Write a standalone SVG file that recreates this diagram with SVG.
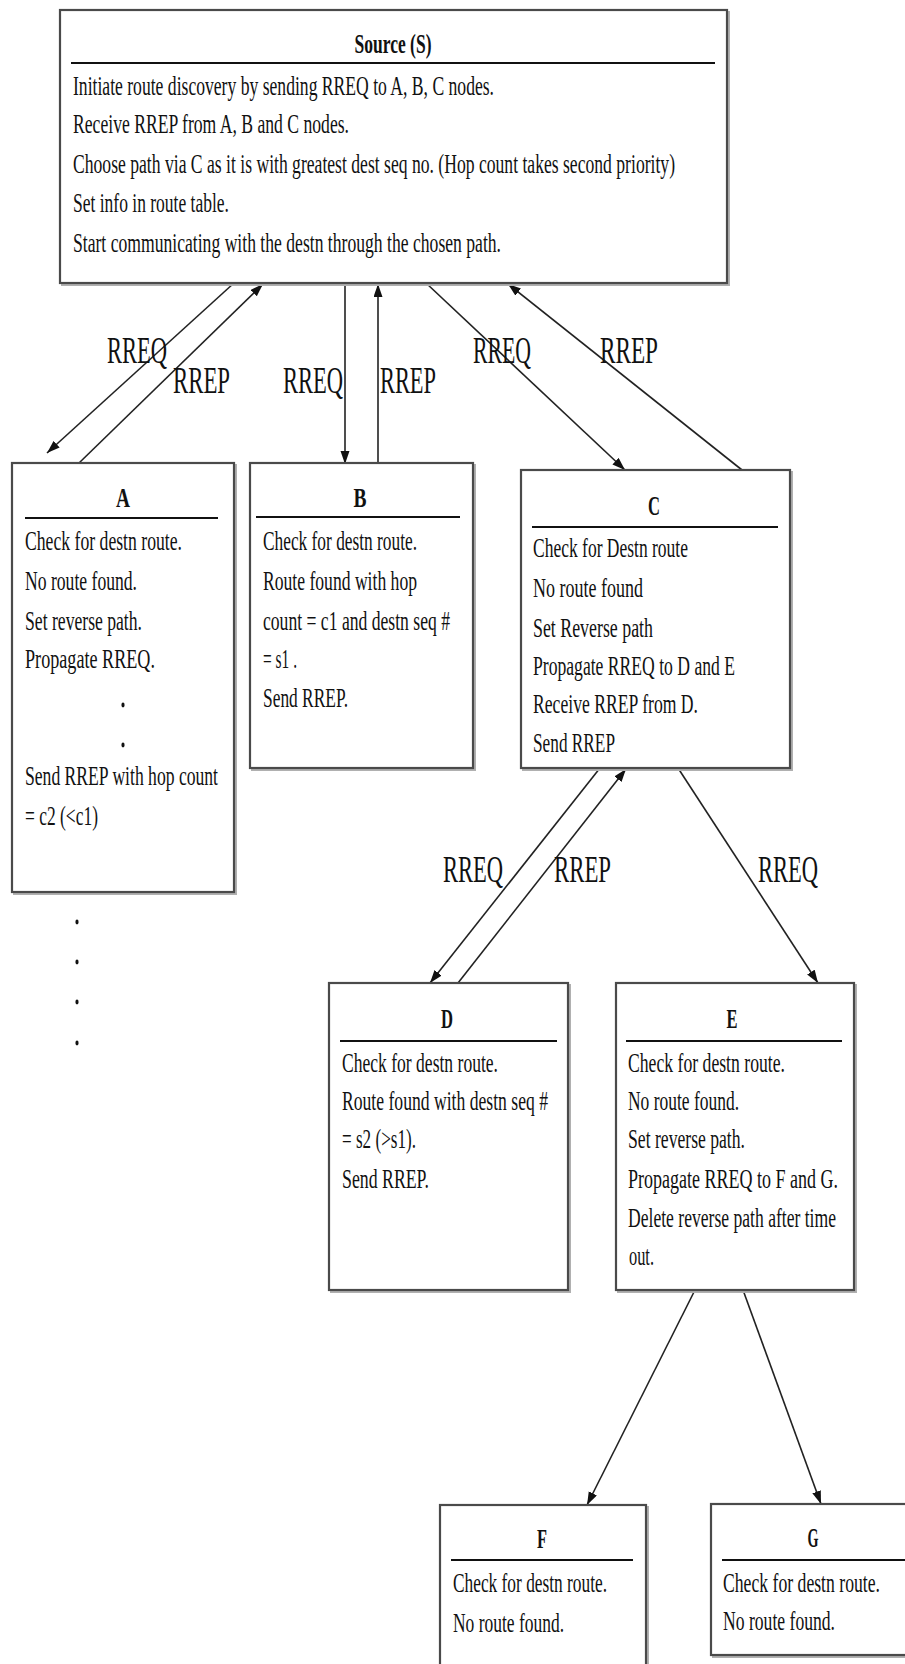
<svg xmlns="http://www.w3.org/2000/svg" width="905" height="1664" viewBox="0 0 905 1664">
<defs>
<marker id="ah" markerUnits="userSpaceOnUse" markerWidth="14" markerHeight="10" refX="13" refY="4.5" orient="auto">
<path d="M0,0 L13,4.5 L0,9 Z" fill="#111"/>
</marker>
<style>
.box{fill:#fff;stroke:#4a4a4a;stroke-width:2.2}
.sh{fill:none;stroke:#b0b0b0;stroke-width:2}
.ul{stroke:#111;stroke-width:2.2}
.t{font-family:"Liberation Serif","Times New Roman",serif;font-size:28px;fill:#111}
.h{font-family:"Liberation Serif","Times New Roman",serif;font-size:28px;font-weight:bold;fill:#111;text-anchor:middle}
.lb{font-family:"Liberation Serif","Times New Roman",serif;font-size:37px;fill:#111}
.c{stroke:#222;stroke-width:1.6;fill:none;marker-end:url(#ah)}
.dot{fill:#111}
</style>
</defs>
<rect width="905" height="1664" fill="#fff"/>

<g id="connectors">
<line class="c" x1="234" y1="283" x2="47" y2="453"/>
<line class="c" x1="78" y1="464" x2="263" y2="284"/>
<line class="c" x1="345" y1="283" x2="345" y2="464"/>
<line class="c" x1="378" y1="464" x2="378" y2="284"/>
<line class="c" x1="426" y1="283" x2="625" y2="470"/>
<line class="c" x1="742" y1="470" x2="508" y2="284"/>
<line class="c" x1="600" y1="768" x2="430" y2="983"/>
<line class="c" x1="458" y1="983" x2="626" y2="769"/>
<line class="c" x1="678" y1="768" x2="818" y2="983"/>
<line class="c" x1="695" y1="1290" x2="587" y2="1505"/>
<line class="c" x1="743" y1="1290" x2="821" y2="1504"/>
<text class="lb" x="107" y="363" textLength="60" lengthAdjust="spacingAndGlyphs">RREQ</text>
<text class="lb" x="173" y="393" textLength="57" lengthAdjust="spacingAndGlyphs">RREP</text>
<text class="lb" x="283" y="393" textLength="60" lengthAdjust="spacingAndGlyphs">RREQ</text>
<text class="lb" x="380" y="393" textLength="56" lengthAdjust="spacingAndGlyphs">RREP</text>
<text class="lb" x="473" y="363" textLength="58" lengthAdjust="spacingAndGlyphs">RREQ</text>
<text class="lb" x="600" y="363" textLength="58" lengthAdjust="spacingAndGlyphs">RREP</text>
<text class="lb" x="443" y="882" textLength="60" lengthAdjust="spacingAndGlyphs">RREQ</text>
<text class="lb" x="554" y="882" textLength="57" lengthAdjust="spacingAndGlyphs">RREP</text>
<text class="lb" x="758" y="882" textLength="60" lengthAdjust="spacingAndGlyphs">RREQ</text>
</g>

<g id="node-S">
<rect class="sh" x="62" y="12" width="667" height="273"/>
<rect class="box" x="60" y="10" width="667" height="273"/>
<text class="h" x="393" y="53" textLength="77" lengthAdjust="spacingAndGlyphs">Source (S)</text>
<line class="ul" x1="71" y1="63" x2="715" y2="63"/>
<text class="t" x="73" y="95" textLength="421" lengthAdjust="spacingAndGlyphs">Initiate route discovery by sending RREQ to A, B, C nodes.</text>
<text class="t" x="73" y="133" textLength="276" lengthAdjust="spacingAndGlyphs">Receive RREP from A, B and C nodes.</text>
<text class="t" x="73" y="173" textLength="602" lengthAdjust="spacingAndGlyphs">Choose path via C as it is with greatest dest seq no. (Hop count takes second priority)</text>
<text class="t" x="73" y="212" textLength="156" lengthAdjust="spacingAndGlyphs">Set info in route table.</text>
<text class="t" x="73" y="252" textLength="428" lengthAdjust="spacingAndGlyphs">Start communicating with the destn through the chosen path.</text>
</g>

<g id="node-A">
<rect class="sh" x="14" y="465" width="222" height="429"/>
<rect class="box" x="12" y="463" width="222" height="429"/>
<text class="h" x="123" y="507" textLength="14" lengthAdjust="spacingAndGlyphs">A</text>
<line class="ul" x1="25" y1="518" x2="218" y2="518"/>
<text class="t" x="25" y="550" textLength="157" lengthAdjust="spacingAndGlyphs">Check for destn route.</text>
<text class="t" x="25" y="590" textLength="112" lengthAdjust="spacingAndGlyphs">No route found.</text>
<text class="t" x="25" y="630" textLength="117" lengthAdjust="spacingAndGlyphs">Set reverse path.</text>
<text class="t" x="25" y="668" textLength="130" lengthAdjust="spacingAndGlyphs">Propagate  RREQ.</text>
<ellipse class="dot" cx="123" cy="705" rx="1.6" ry="2.4"/>
<ellipse class="dot" cx="123" cy="745" rx="1.6" ry="2.4"/>
<text class="t" x="25" y="785" textLength="193" lengthAdjust="spacingAndGlyphs">Send RREP with hop count</text>
<text class="t" x="25" y="825" textLength="73" lengthAdjust="spacingAndGlyphs">= c2 (&lt;c1)</text>
</g>

<g id="dots-below-A">
<ellipse class="dot" cx="77" cy="922" rx="1.6" ry="2.4"/>
<ellipse class="dot" cx="77" cy="962" rx="1.6" ry="2.4"/>
<ellipse class="dot" cx="77" cy="1002" rx="1.6" ry="2.4"/>
<ellipse class="dot" cx="77" cy="1043" rx="1.6" ry="2.4"/>
</g>

<g id="node-B">
<rect class="sh" x="252" y="465" width="223" height="305"/>
<rect class="box" x="250" y="463" width="223" height="305"/>
<text class="h" x="360" y="507" textLength="13" lengthAdjust="spacingAndGlyphs">B</text>
<line class="ul" x1="256" y1="517" x2="460" y2="517"/>
<text class="t" x="263" y="550" textLength="154" lengthAdjust="spacingAndGlyphs">Check for destn route.</text>
<text class="t" x="263" y="590" textLength="154" lengthAdjust="spacingAndGlyphs">Route found with hop</text>
<text class="t" x="263" y="630" textLength="187" lengthAdjust="spacingAndGlyphs">count = c1 and destn seq #</text>
<text class="t" x="263" y="668" textLength="34" lengthAdjust="spacingAndGlyphs">= s1 .</text>
<text class="t" x="263" y="707" textLength="85" lengthAdjust="spacingAndGlyphs">Send RREP.</text>
</g>

<g id="node-C">
<rect class="sh" x="523" y="472" width="269" height="298"/>
<rect class="box" x="521" y="470" width="269" height="298"/>
<text class="h" x="654" y="515" textLength="12" lengthAdjust="spacingAndGlyphs">C</text>
<line class="ul" x1="532" y1="527" x2="778" y2="527"/>
<text class="t" x="533" y="557" textLength="155" lengthAdjust="spacingAndGlyphs">Check for Destn route</text>
<text class="t" x="533" y="597" textLength="110" lengthAdjust="spacingAndGlyphs">No route found</text>
<text class="t" x="533" y="637" textLength="120" lengthAdjust="spacingAndGlyphs">Set Reverse path</text>
<text class="t" x="533" y="675" textLength="202" lengthAdjust="spacingAndGlyphs">Propagate RREQ to D and E</text>
<text class="t" x="533" y="713" textLength="165" lengthAdjust="spacingAndGlyphs">Receive RREP from D.</text>
<text class="t" x="533" y="752" textLength="82" lengthAdjust="spacingAndGlyphs">Send RREP</text>
</g>

<g id="node-D">
<rect class="sh" x="331" y="985" width="239" height="307"/>
<rect class="box" x="329" y="983" width="239" height="307"/>
<text class="h" x="447" y="1028" textLength="12" lengthAdjust="spacingAndGlyphs">D</text>
<line class="ul" x1="340" y1="1041" x2="557" y2="1041"/>
<text class="t" x="342" y="1072" textLength="156" lengthAdjust="spacingAndGlyphs">Check for destn route.</text>
<text class="t" x="342" y="1110" textLength="206" lengthAdjust="spacingAndGlyphs">Route found with destn seq #</text>
<text class="t" x="342" y="1148" textLength="74" lengthAdjust="spacingAndGlyphs">= s2 (&gt;s1).</text>
<text class="t" x="342" y="1188" textLength="87" lengthAdjust="spacingAndGlyphs">Send RREP.</text>
</g>

<g id="node-E">
<rect class="sh" x="618" y="985" width="238" height="307"/>
<rect class="box" x="616" y="983" width="238" height="307"/>
<text class="h" x="732" y="1028" textLength="11" lengthAdjust="spacingAndGlyphs">E</text>
<line class="ul" x1="626" y1="1041" x2="842" y2="1041"/>
<text class="t" x="628" y="1072" textLength="157" lengthAdjust="spacingAndGlyphs">Check for destn route.</text>
<text class="t" x="628" y="1110" textLength="111" lengthAdjust="spacingAndGlyphs">No route found.</text>
<text class="t" x="628" y="1148" textLength="117" lengthAdjust="spacingAndGlyphs">Set reverse path.</text>
<text class="t" x="628" y="1188" textLength="210" lengthAdjust="spacingAndGlyphs">Propagate  RREQ to F and G.</text>
<text class="t" x="628" y="1227" textLength="208" lengthAdjust="spacingAndGlyphs">Delete reverse path after time</text>
<text class="t" x="629" y="1265" textLength="25" lengthAdjust="spacingAndGlyphs">out.</text>
</g>

<g id="node-F">
<rect class="sh" x="442" y="1507" width="206" height="200"/>
<rect class="box" x="440" y="1505" width="206" height="200"/>
<text class="h" x="542" y="1548" textLength="10" lengthAdjust="spacingAndGlyphs">F</text>
<line class="ul" x1="451" y1="1560" x2="633" y2="1560"/>
<text class="t" x="453" y="1592" textLength="154" lengthAdjust="spacingAndGlyphs">Check for destn route.</text>
<text class="t" x="453" y="1632" textLength="111" lengthAdjust="spacingAndGlyphs">No route found.</text>
</g>

<g id="node-G">
<rect class="sh" x="713" y="1506" width="220" height="151"/>
<rect class="box" x="711" y="1504" width="220" height="151"/>
<text class="h" x="813" y="1547" textLength="11" lengthAdjust="spacingAndGlyphs">G</text>
<line class="ul" x1="722" y1="1560" x2="905" y2="1560"/>
<text class="t" x="723" y="1592" textLength="157" lengthAdjust="spacingAndGlyphs">Check for destn route.</text>
<text class="t" x="723" y="1630" textLength="112" lengthAdjust="spacingAndGlyphs">No route found.</text>
</g>
</svg>
